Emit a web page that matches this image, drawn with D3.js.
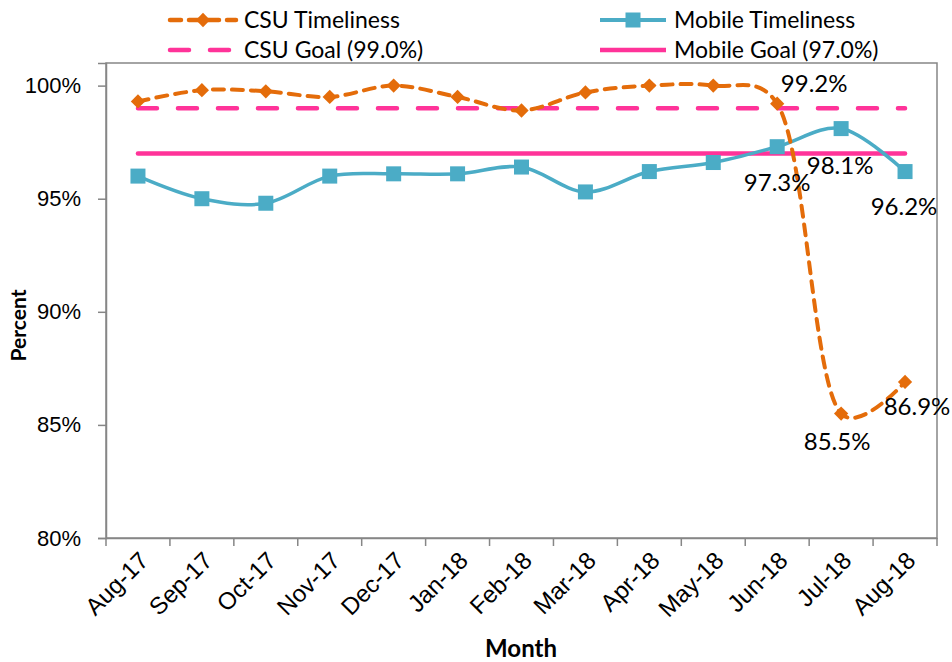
<!DOCTYPE html>
<html>
  <head>
    <meta charset="utf-8">
    <title>CSU and Mobile Timeliness</title>
    <style>
      body { margin: 0; background: #fff; }
      .chart { font-family: Lato, "Open Sans", sans-serif; }
      .axis path, .axis line { stroke: #868686; stroke-width: 1.5; fill: none; }
      .axis text { font-size: 22px; fill: #000; }
    </style>
  </head>
  <body>
    <div class="chart"></div>
    <script src="https://d3js.org/d3.v7.min.js"></script>
    <script>
      // Chart data
      var months = ["Aug-17", "Sep-17", "Oct-17", "Nov-17", "Dec-17", "Jan-18", "Feb-18",
                    "Mar-18", "Apr-18", "May-18", "Jun-18", "Jul-18", "Aug-18"];
      var csuTimeliness = [99.3, 99.8, 99.75, 99.5, 100.0, 99.5, 98.9, 99.7, 100.0, 100.0, 99.2, 85.5, 86.9];
      var mobileTimeliness = [96.0, 95.0, 94.8, 96.0, 96.1, 96.1, 96.4, 95.3, 96.2, 96.6, 97.3, 98.1, 96.2];
      var csuGoal = 99.0;
      var mobileGoal = 97.0;
      var yTicks = [80, 85, 90, 95, 100];
      var labelledMonths = ["Jun-18", "Jul-18", "Aug-18"];

      var orange = "#E46C0A", blue = "#4BACC6", pink = "#FF3399";

      var width = 952, height = 662;
      var margin = {top: 63, right: 15, bottom: 124, left: 106};
      var w = width - margin.left - margin.right;
      var h = height - margin.top - margin.bottom;

      var svg = d3.select(".chart").append("svg")
        .attr("width", width)
        .attr("height", height);

      var g = svg.append("g")
        .attr("transform", "translate(" + margin.left + "," + margin.top + ")");

      var x = d3.scaleBand().domain(months).range([0, w]);
      var y = d3.scaleLinear().domain([80, 101]).range([h, 0]);
      var cx = function(m) { return x(m) + x.bandwidth() / 2; };

      // plot area border
      g.append("rect")
        .attr("width", w).attr("height", h)
        .attr("fill", "none").attr("stroke", "#868686").attr("stroke-width", 1.5);

      // axes
      var xAxis = g.append("g")
        .attr("class", "x axis")
        .attr("transform", "translate(0," + h + ")")
        .call(d3.axisBottom(x).tickSize(0).tickFormat(""));
      xAxis.selectAll(".tk").data(d3.range(months.length + 1)).enter().append("line")
        .attr("x1", function(i) { return i * x.step(); })
        .attr("x2", function(i) { return i * x.step(); })
        .attr("y1", 0).attr("y2", 8);
      xAxis.selectAll(".lbl").data(months).enter().append("text")
        .attr("transform", function(d) { return "translate(" + (cx(d) + 6) + ",18) rotate(-45)"; })
        .attr("text-anchor", "end")
        .attr("dy", "0.35em")
        .style("font-size", "24px")
        .text(function(d) { return d; });

      g.append("g")
        .attr("class", "y axis")
        .call(d3.axisLeft(y).tickValues(yTicks).tickSize(8).tickPadding(17)
          .tickFormat(function(d) { return d + "%"; }));

      // axis titles
      svg.append("text")
        .attr("transform", "translate(26," + (margin.top + h / 2 + 25) + ") rotate(-90)")
        .attr("text-anchor", "middle")
        .style("font-size", "21px").style("font-weight", "bold")
        .text("Percent");
      svg.append("text")
        .attr("x", 521).attr("y", 657)
        .attr("text-anchor", "middle")
        .style("font-size", "24px").style("font-weight", "bold")
        .text("Month");

      // goal lines
      var flat = d3.line().x(function(d) { return cx(d[0]); }).y(function(d) { return y(d[1]); });
      g.append("path")
        .datum(months.map(function(m) { return [m, csuGoal]; }))
        .attr("d", flat).attr("fill", "none")
        .attr("stroke", pink).attr("stroke-width", 4.5)
        .attr("stroke-dasharray", "19,21").attr("stroke-linecap", "round");
      g.append("path")
        .datum(months.map(function(m) { return [m, mobileGoal]; }))
        .attr("d", flat).attr("fill", "none")
        .attr("stroke", pink).attr("stroke-width", 4.5).attr("stroke-linecap", "round");

      // smoothed series
      var smooth = d3.line()
        .x(function(d) { return cx(d[0]); })
        .y(function(d) { return y(d[1]); })
        .curve(d3.curveCatmullRom.alpha(0.3));

      var mobileData = months.map(function(m, i) { return [m, mobileTimeliness[i]]; });
      var csuData = months.map(function(m, i) { return [m, csuTimeliness[i]]; });

      g.append("path").datum(mobileData).attr("d", smooth)
        .attr("fill", "none").attr("stroke", blue).attr("stroke-width", 3.5);
      g.selectAll(".sq").data(mobileData).enter().append("rect")
        .attr("x", function(d) { return cx(d[0]) - 7.5; })
        .attr("y", function(d) { return y(d[1]) - 7.5; })
        .attr("width", 15).attr("height", 15).attr("fill", blue);

      g.append("path").datum(csuData).attr("d", smooth)
        .attr("fill", "none").attr("stroke", orange).attr("stroke-width", 4)
        .attr("stroke-dasharray", "11,8").attr("stroke-linecap", "round");
      g.selectAll(".dm").data(csuData).enter().append("path")
        .attr("d", d3.symbol().type(d3.symbolDiamond2).size(130))
        .attr("transform", function(d) { return "translate(" + cx(d[0]) + "," + y(d[1]) + ")"; })
        .attr("fill", orange);

      // data labels on the last three months
      var csuOffsets = {"Jun-18": [37, -9], "Jul-18": [-4, 39], "Aug-18": [12, 35]};
      var mobOffsets = {"Jun-18": [0, 47], "Jul-18": [-1, 48], "Aug-18": [-1, 46]};
      function addLabels(data, offsets) {
        g.selectAll(null).data(data.filter(function(d) { return labelledMonths.indexOf(d[0]) >= 0; }))
          .enter().append("text")
          .attr("x", function(d) { return cx(d[0]) + offsets[d[0]][0]; })
          .attr("y", function(d) { return y(d[1]) + offsets[d[0]][1]; })
          .attr("text-anchor", "middle")
          .attr("dy", "-0.1em")
          .style("font-size", "24px")
          .text(function(d) { return d[1].toFixed(1) + "%"; });
      }
      addLabels(csuData, csuOffsets);
      addLabels(mobileData, mobOffsets);

      // legend
      var legend = svg.append("g");
      var items = [
        {name: "CSU Timeliness", x: 168, y: 20, color: orange, dash: "11,8", marker: "diamond"},
        {name: "Mobile Timeliness", x: 598, y: 20, color: blue, dash: null, marker: "square"},
        {name: "CSU Goal (99.0%)", x: 168, y: 50, color: pink, dash: "19,21", marker: null},
        {name: "Mobile Goal (97.0%)", x: 598, y: 50, color: pink, dash: null, marker: null}
      ];
      items.forEach(function(it) {
        var lg = legend.append("g");
        lg.append("line")
          .attr("x1", it.x + 2).attr("x2", it.x + 68)
          .attr("y1", it.y).attr("y2", it.y)
          .attr("stroke", it.color).attr("stroke-width", it.marker === "square" ? 4 : 4.5)
          .attr("stroke-dasharray", it.dash).attr("stroke-linecap", it.dash ? "round" : "butt");
        if (it.marker === "diamond") {
          lg.append("path")
            .attr("d", d3.symbol().type(d3.symbolDiamond2).size(130))
            .attr("transform", "translate(" + (it.x + 35) + "," + it.y + ")")
            .attr("fill", it.color);
        }
        if (it.marker === "square") {
          lg.append("rect")
            .attr("x", it.x + 27.5).attr("y", it.y - 7.5)
            .attr("width", 15).attr("height", 15).attr("fill", it.color);
        }
        lg.append("text")
          .attr("x", it.x + 76).attr("y", it.y)
          .attr("dy", "0.35em")
          .style("font-size", "23px")
          .text(it.name);
      });
    </script>
  </body>
</html>
